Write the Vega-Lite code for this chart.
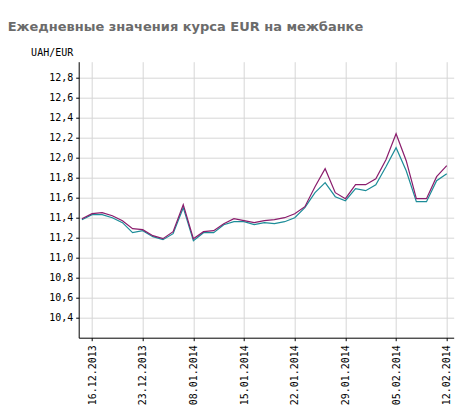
{
  "$schema": "https://vega.github.io/schema/vega-lite/v6.json",
  "autosize": "none",
  "padding": {"left": 78.7, "top": 61.7, "right": 21, "bottom": 78},
  "width": 375,
  "height": 276,
  "background": "white",
  "title": {
    "text": "Ежедневные значения курса EUR на межбанке",
    "anchor": "start",
    "frame": "group",
    "dx": -71,
    "dy": 4,
    "offset": 18,
    "font": "DejaVu Sans",
    "fontSize": 13,
    "fontWeight": "bold",
    "color": "#6b6b6b"
  },
  "config": {
    "view": {"stroke": null},
    "axis": {
      "labelFont": "DejaVu Sans Mono",
      "labelFontSize": 10,
      "labelColor": "black",
      "labelOverlap": false,
      "titleFont": "DejaVu Sans Mono",
      "titleFontSize": 10,
      "titleFontWeight": "normal",
      "titleColor": "black",
      "domainColor": "black",
      "tickColor": "black",
      "tickSize": 3,
      "gridColor": "#d6d6d6",
      "gridWidth": 1
    }
  },
  "data": {
    "values": [
      {"date": "13.12.2013", "m": 11.39, "t": 11.38},
      {"date": "16.12.2013", "m": 11.44, "t": 11.43},
      {"date": "17.12.2013", "m": 11.45, "t": 11.43},
      {"date": "18.12.2013", "m": 11.42, "t": 11.40},
      {"date": "19.12.2013", "m": 11.37, "t": 11.35},
      {"date": "20.12.2013", "m": 11.29, "t": 11.25},
      {"date": "23.12.2013", "m": 11.28, "t": 11.27},
      {"date": "24.12.2013", "m": 11.22, "t": 11.21},
      {"date": "26.12.2013", "m": 11.19, "t": 11.18},
      {"date": "27.12.2013", "m": 11.26, "t": 11.24},
      {"date": "30.12.2013", "m": 11.53, "t": 11.50},
      {"date": "08.01.2014", "m": 11.19, "t": 11.17},
      {"date": "09.01.2014", "m": 11.26, "t": 11.25},
      {"date": "10.01.2014", "m": 11.27, "t": 11.25},
      {"date": "13.01.2014", "m": 11.34, "t": 11.33},
      {"date": "14.01.2014", "m": 11.39, "t": 11.36},
      {"date": "15.01.2014", "m": 11.37, "t": 11.36},
      {"date": "16.01.2014", "m": 11.35, "t": 11.33},
      {"date": "17.01.2014", "m": 11.37, "t": 11.35},
      {"date": "20.01.2014", "m": 11.38, "t": 11.34},
      {"date": "21.01.2014", "m": 11.40, "t": 11.36},
      {"date": "22.01.2014", "m": 11.44, "t": 11.40},
      {"date": "23.01.2014", "m": 11.51, "t": 11.50},
      {"date": "24.01.2014", "m": 11.71, "t": 11.65},
      {"date": "27.01.2014", "m": 11.89, "t": 11.75},
      {"date": "28.01.2014", "m": 11.65, "t": 11.61},
      {"date": "29.01.2014", "m": 11.59, "t": 11.57},
      {"date": "30.01.2014", "m": 11.73, "t": 11.69},
      {"date": "31.01.2014", "m": 11.73, "t": 11.67},
      {"date": "03.02.2014", "m": 11.79, "t": 11.73},
      {"date": "04.02.2014", "m": 11.98, "t": 11.91},
      {"date": "05.02.2014", "m": 12.24, "t": 12.10},
      {"date": "06.02.2014", "m": 11.97, "t": 11.87},
      {"date": "07.02.2014", "m": 11.59, "t": 11.56},
      {"date": "10.02.2014", "m": 11.59, "t": 11.56},
      {"date": "11.02.2014", "m": 11.81, "t": 11.77},
      {"date": "12.02.2014", "m": 11.92, "t": 11.84}
    ]
  },
  "encoding": {
    "x": {
      "field": "date",
      "type": "ordinal",
      "sort": null,
      "scale": {"type": "point", "paddingOuter": 0.68, "align": 0.316},
      "axis": {
        "title": null,
        "values": ["16.12.2013", "23.12.2013", "08.01.2014", "15.01.2014", "22.01.2014", "29.01.2014", "05.02.2014", "12.02.2014"],
        "labelAngle": -90,
        "labelAlign": "right",
        "labelBaseline": "middle",
        "labelPadding": 4,
        "grid": true
      }
    }
  },
  "layer": [
    {
      "mark": {"type": "line", "color": "#1c8c98", "strokeWidth": 1.2},
      "encoding": {
        "y": {
          "field": "t",
          "type": "quantitative",
          "scale": {"domain": [10.2, 12.96], "nice": false, "zero": false},
          "axis": {
            "title": "UAH/EUR",
            "titleAngle": 0,
            "titleAlign": "right",
            "titleBaseline": "middle",
            "titleX": -6,
            "titleY": -9,
            "values": [10.4, 10.6, 10.8, 11.0, 11.2, 11.4, 11.6, 11.8, 12.0, 12.2, 12.4, 12.6, 12.8],
            "tickCount": 30,
            "labelExpr": "replace(format(datum.value, '.1f'), '.', ',')",
            "labelPadding": 3,
            "grid": true
          }
        }
      }
    },
    {
      "mark": {"type": "line", "color": "#8a1c6c", "strokeWidth": 1.2},
      "encoding": {
        "y": {"field": "m", "type": "quantitative"}
      }
    }
  ]
}
